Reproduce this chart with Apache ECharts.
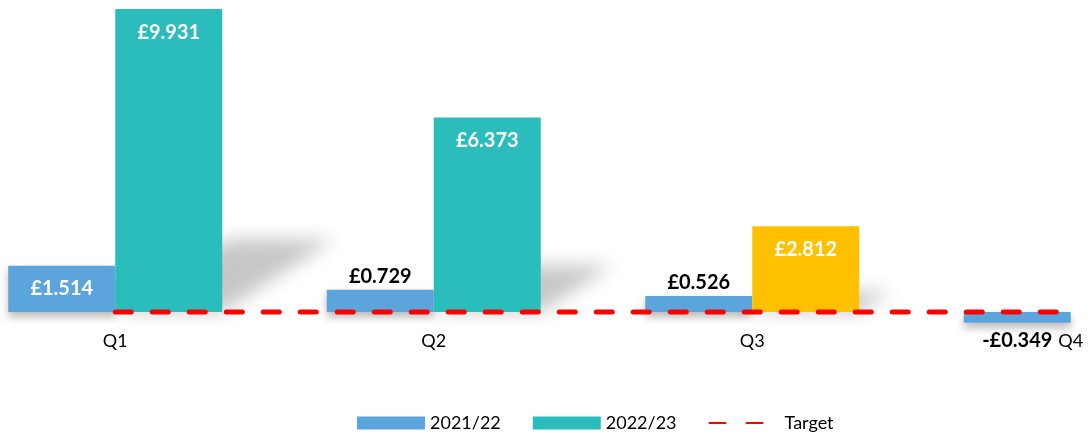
<!DOCTYPE html>
<html>
<head>
<meta charset="utf-8">
<script src="https://cdn.jsdelivr.net/npm/echarts@6/dist/echarts.min.js"></script>
<style>
  html, body { margin: 0; padding: 0; background: #fff; }
  #chart { width: 1089px; height: 436px; }
</style>
</head>
<body>
<div id="chart"></div>
<script>
// Quarterly results (£m)
const categories = ['Q1', 'Q2', 'Q3', 'Q4'];
const values2122 = [1.514, 0.729, 0.526, -0.349];
const values2223 = [9.931, 6.373, 2.812, null];
const targetValues = [0, 0, 0, 0];
const seriesNames = ['2021/22', '2022/23', 'Target'];

const FONT = 'Lato, "Open Sans", sans-serif';
const BLUE = '#5BA5DC';
const TEAL = '#2BBCBC';
const GOLD = '#FFC000';
const BAR_W = 107;
// latest reported quarter is picked out in gold
const latestIdx = values2223.reduce((acc, v, i) => (v != null ? i : acc), -1);

const fmt = v => (v < 0 ? '-£' : '£') + Math.abs(v).toFixed(3);

const labelBase = { show: true, fontFamily: FONT, fontWeight: 'bold', fontSize: 20,
  formatter: p => fmt(p.value) };

const data2122 = values2122.map(v => {
  let label;
  if (v > 1) label = Object.assign({}, labelBase, { position: 'inside', color: '#fff' });
  else if (v >= 0) label = Object.assign({}, labelBase, { position: 'top', distance: 3, color: '#000' });
  else label = Object.assign({}, labelBase, { position: 'bottom', distance: 8, color: '#000' });
  return { value: v, label };
});

const data2223 = values2223.map((v, i) => ({
  value: v,
  itemStyle: { color: i === latestIdx ? GOLD : TEAL },
  label: Object.assign({}, labelBase, { position: 'insideTop', distance: 13, color: '#fff' })
}));

// slanted soft drop shadow cast by each 2022/23 column
const shadowData = values2223.map((v, i) => [i, v]).filter(d => d[1] != null);
const OFF = 3000;
function renderShadow(params, api) {
  const i = api.value(0), v = api.value(1);
  const base = api.coord([i, 0]);
  const top = api.coord([i, v]);
  const h = base[1] - top[1];
  const dx = 0.37 * h, dh = 0.24 * h;
  const x0 = base[0], x1 = base[0] + BAR_W;
  const y0 = base[1];
  return {
    type: 'polygon',
    shape: { points: [
      [x0 - OFF, y0], [x1 - OFF, y0], [x1 + dx - OFF, y0 - dh], [x0 + dx - OFF, y0 - dh]
    ] },
    style: { fill: '#000', shadowColor: 'rgba(0,0,0,0.22)', shadowBlur: 18, shadowOffsetX: OFF, shadowOffsetY: 0 },
    silent: true
  };
}

const chart = echarts.init(document.getElementById('chart'), null, { renderer: 'canvas' });
chart.setOption({
  animation: false,
  backgroundColor: '#fff',
  // the category axis sits on the zero line; the Q4 shortfall hangs below it
  grid: { left: -44, width: 1274, top: 7, bottom: 124, containLabel: false, outerBoundsMode: 'none' },
  legend: {
    left: 357, top: 414, padding: 0,
    itemWidth: 68, itemHeight: 13, itemGap: 32,
    textStyle: { fontFamily: FONT, fontSize: 18, color: '#000' },
    data: [
      { name: seriesNames[0], icon: 'rect' },
      { name: seriesNames[1], icon: 'rect' },
      { name: seriesNames[2], itemStyle: { opacity: 0 }, textStyle: { padding: [0, 0, 0, 2] } }
    ]
  },
  xAxis: {
    type: 'category', data: categories,
    axisLine: { show: false },
    axisTick: { show: false },
    axisLabel: { margin: 20, fontFamily: FONT, fontSize: 18, color: '#000' },
    splitLine: { show: false }
  },
  yAxis: {
    type: 'value', min: 0, max: 10, interval: 2,
    axisLine: { show: false }, axisTick: { show: false }, axisLabel: { show: false },
    splitLine: { show: false }
  },
  series: [
    {
      type: 'custom', name: 'shadow', renderItem: renderShadow, data: shadowData,
      z: 1, silent: true, clip: false
    },
    {
      type: 'bar', name: seriesNames[0], data: data2122,
      barWidth: BAR_W, barGap: '0%', z: 3, clip: false,
      itemStyle: { color: BLUE, borderRadius: 1, shadowColor: 'rgba(0,0,0,0.28)', shadowBlur: 8, shadowOffsetY: 5 }
    },
    {
      type: 'bar', name: seriesNames[1], data: data2223,
      barWidth: BAR_W, barGap: '0%', z: 3, clip: false,
      itemStyle: { color: TEAL, borderRadius: 1 }
    },
    {
      type: 'line', name: seriesNames[2], data: targetValues,
      symbol: 'none', showSymbol: false, z: 5, clip: false,
      itemStyle: { color: '#FF0000' },
      lineStyle: { color: '#FF0000', width: 5, type: [16, 21], cap: 'round' }
    }
  ]
});
</script>
</body>
</html>
